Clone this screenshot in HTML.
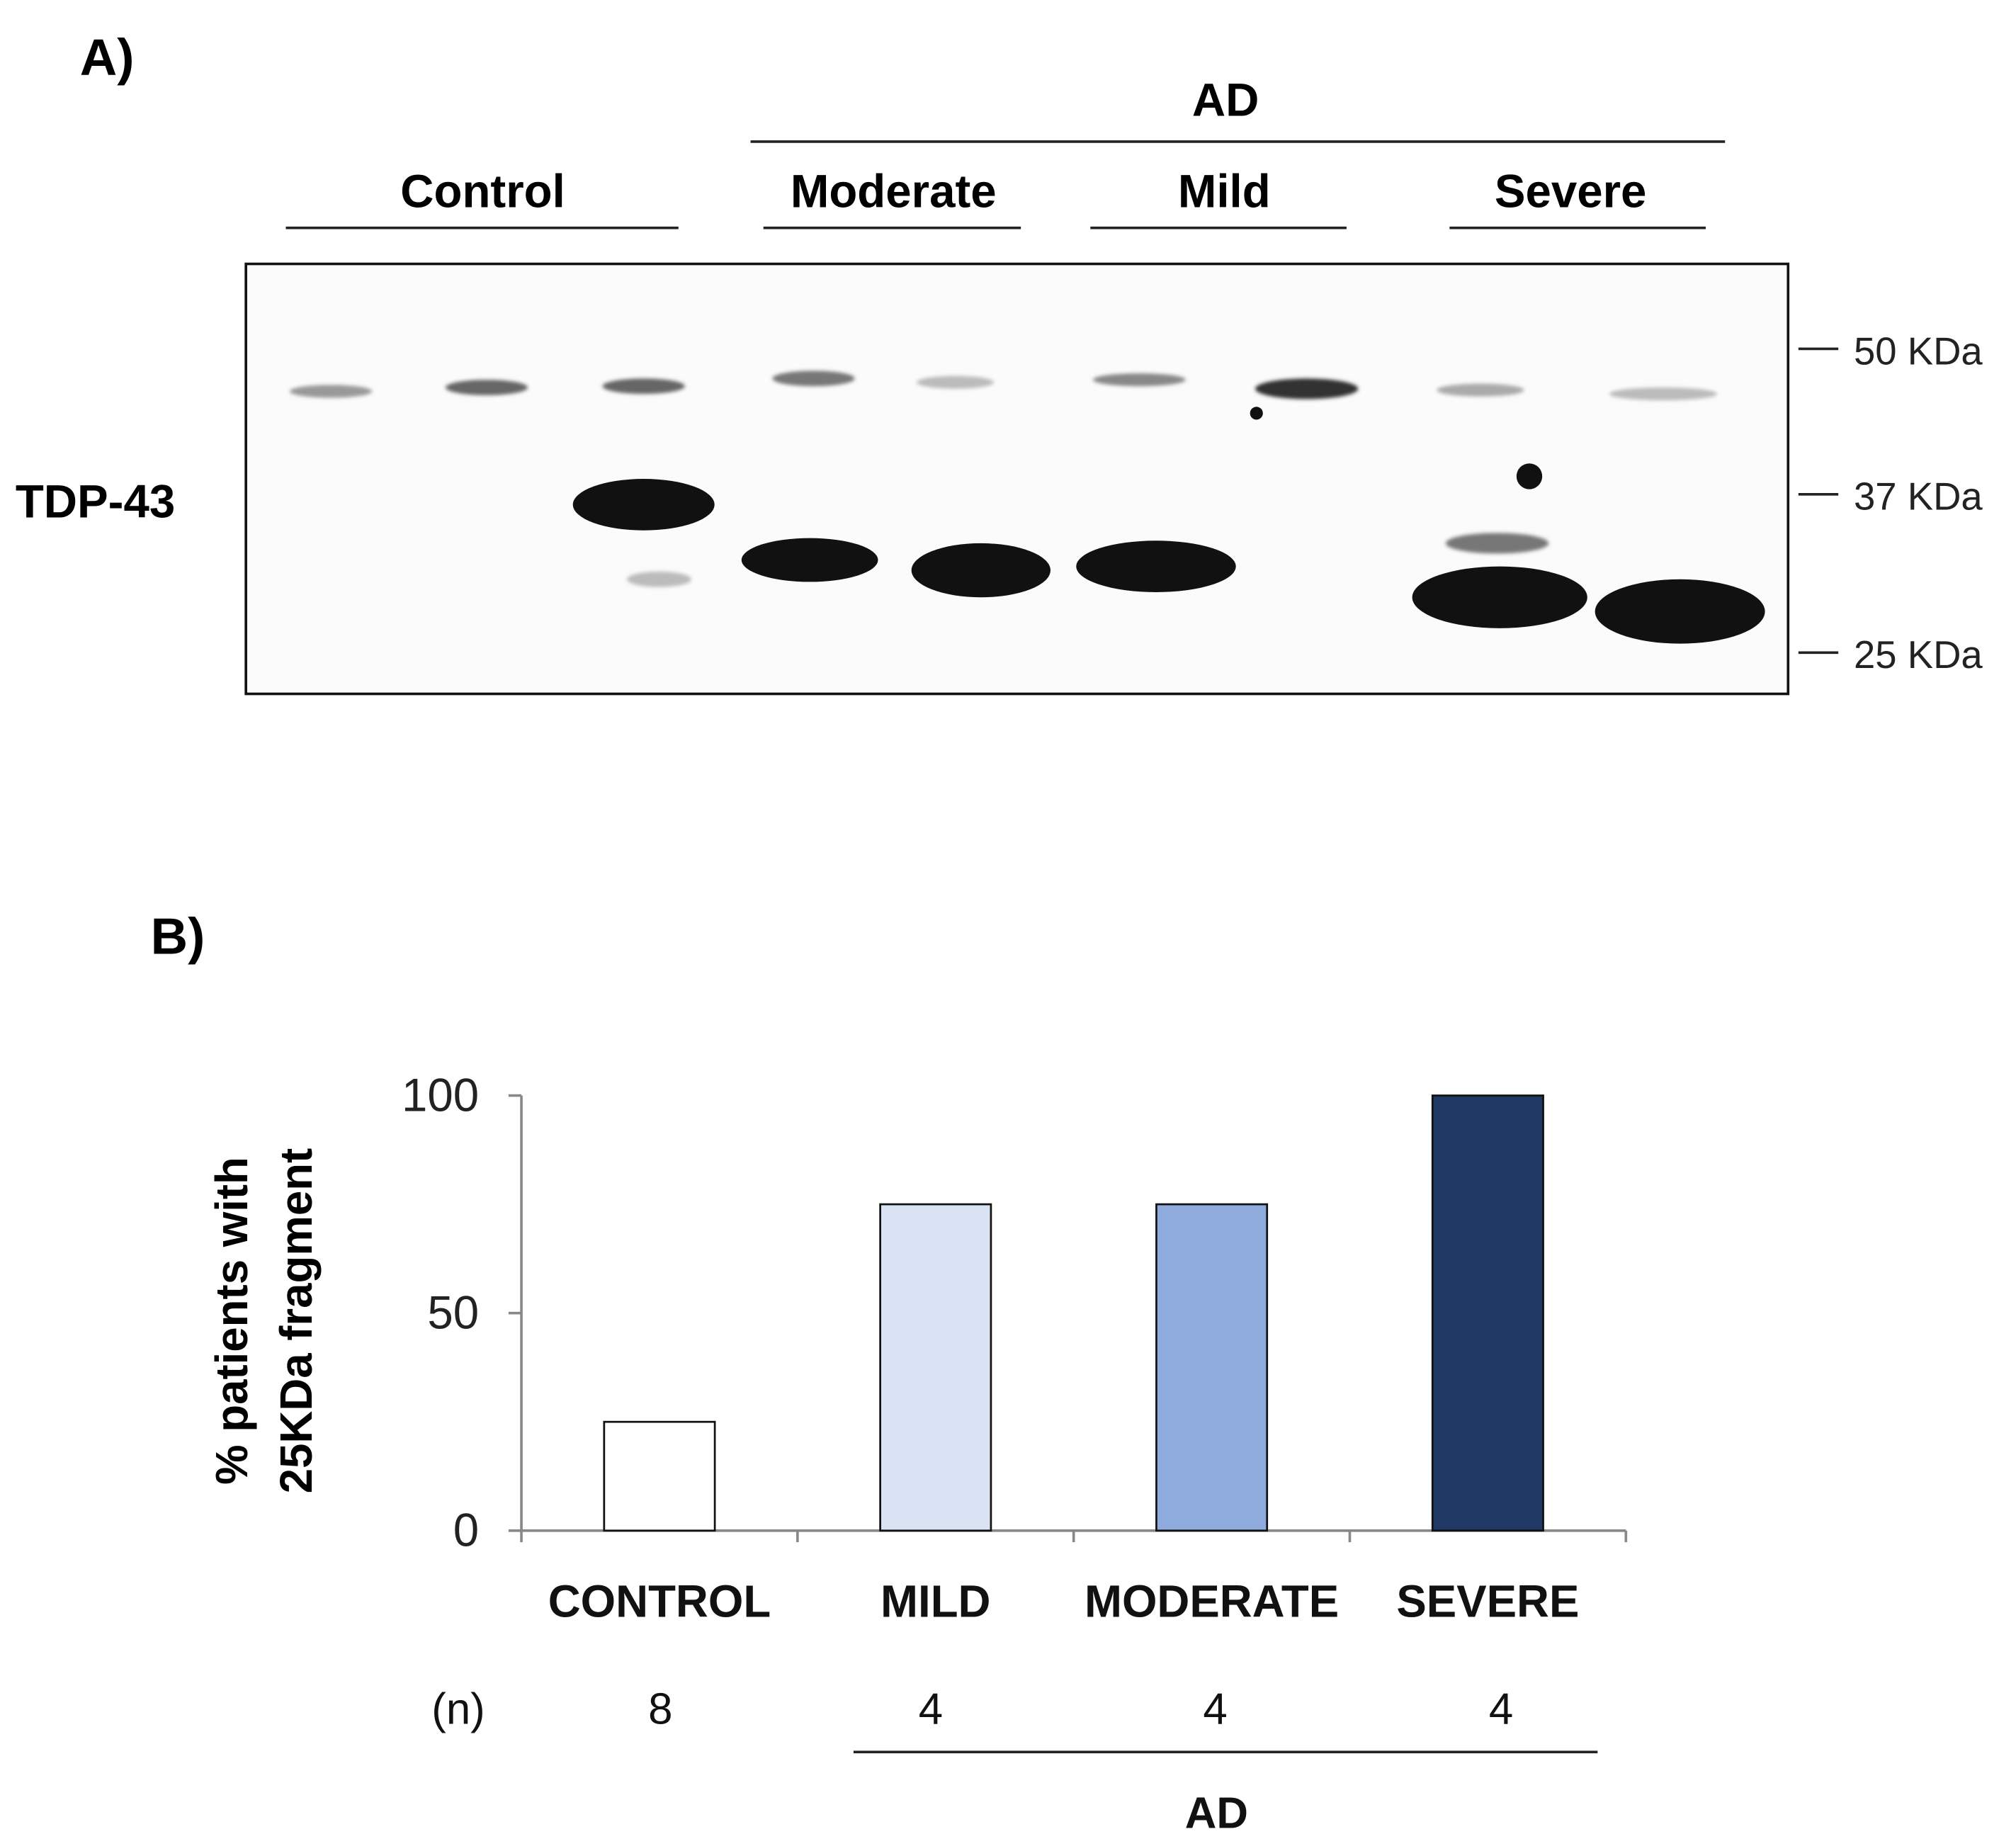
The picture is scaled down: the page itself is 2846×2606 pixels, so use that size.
<!DOCTYPE html>
<html><head><meta charset="utf-8"><style>
html,body{margin:0;padding:0;background:#fff;}
svg{display:block;}
text{font-family:"Liberation Sans",sans-serif;}
</style></head><body>
<svg id="fig" width="2846" height="2606" viewBox="0 0 1566 1434">
<defs>
<filter id="blur2" x="-20%" y="-50%" width="140%" height="200%"><feGaussianBlur stdDeviation="1.5"/></filter>
</defs>
<g>
<text x="62" y="58" font-size="40" font-weight="bold">A)</text>
<text x="952" y="90" font-size="36" font-weight="bold" text-anchor="middle">AD</text>
<line x1="583" y1="110" x2="1340" y2="110" stroke="#222" stroke-width="2"/>
<text x="375" y="161" font-size="36" font-weight="bold" text-anchor="middle">Control</text>
<text x="694" y="161" font-size="36" font-weight="bold" text-anchor="middle">Moderate</text>
<text x="951" y="161" font-size="36" font-weight="bold" text-anchor="middle">Mild</text>
<text x="1220" y="161" font-size="36" font-weight="bold" text-anchor="middle">Severe</text>
<g stroke="#222" stroke-width="2">
<line x1="222" y1="177" x2="527" y2="177"/><line x1="593" y1="177" x2="793" y2="177"/>
<line x1="847" y1="177" x2="1046" y2="177"/><line x1="1126" y1="177" x2="1325" y2="177"/>
</g>
<text x="12" y="402" font-size="36" font-weight="bold">TDP-43</text>
<rect x="191" y="205" width="1198" height="334" fill="#fbfbfb" stroke="#111" stroke-width="2"/>
<g fill="#555" filter="url(#blur2)">
<ellipse cx="257" cy="304" rx="32" ry="5" fill="#999"/>
<ellipse cx="378" cy="301" rx="32" ry="6" fill="#666"/>
<ellipse cx="500" cy="300" rx="32" ry="6" fill="#666"/>
<ellipse cx="632" cy="294" rx="32" ry="6" fill="#777"/>
<ellipse cx="742" cy="297" rx="30" ry="5" fill="#bbb"/>
<ellipse cx="885" cy="295" rx="36" ry="5" fill="#888"/>
<ellipse cx="1015" cy="302" rx="40" ry="8" fill="#333"/>
<ellipse cx="1150" cy="303" rx="34" ry="5" fill="#aaa"/>
<ellipse cx="1292" cy="306" rx="42" ry="5" fill="#bbb"/>
</g>
<g fill="#111">
<ellipse cx="500" cy="392" rx="55" ry="20"/>
<ellipse cx="512" cy="450" rx="25" ry="6" fill="#bbb" filter="url(#blur2)"/>
<ellipse cx="629" cy="435" rx="53" ry="17"/>
<ellipse cx="762" cy="443" rx="54" ry="21"/>
<ellipse cx="898" cy="440" rx="62" ry="20"/>
<ellipse cx="1163" cy="422" rx="40" ry="8" fill="#777" filter="url(#blur2)"/>
<ellipse cx="1165" cy="464" rx="68" ry="24"/>
<ellipse cx="1305" cy="475" rx="66" ry="25"/>
<circle cx="1188" cy="370" r="10"/>
<circle cx="976" cy="321" r="5"/>
</g>
<g stroke="#222" stroke-width="2">
<line x1="1397" y1="271" x2="1428" y2="271"/><line x1="1397" y1="384" x2="1428" y2="384"/><line x1="1397" y1="507" x2="1428" y2="507"/>
</g>
<g font-size="30" fill="#222">
<text x="1440" y="283">50 KDa</text>
<text x="1440" y="396">37 KDa</text>
<text x="1440" y="519">25 KDa</text>
</g>
</g>
<g id="chart">
<text x="117" y="741" font-size="40" font-weight="bold">B)</text>
<text transform="translate(192,1026) rotate(-90)" font-size="35" font-weight="bold" text-anchor="middle"><tspan x="0" dy="0">% patients with</tspan><tspan x="0" dy="50">25KDa fragment</tspan></text>
</g>
</svg>
<script>
const categories=["CONTROL","MILD","MODERATE","SEVERE"];
const values=[25,75,75,100];
const nValues=["8","4","4","4"];
const yTicks=[0,50,100];
const colors=["#ffffff","#dae3f3","#8faadc","#203864"];
const NS="http://www.w3.org/2000/svg";
const g=document.getElementById('chart');
const x0=405,x1=1263,yBase=1189,yTop=851;
const bandW=(x1-x0)/categories.length;
const yS=v=>yBase-(v/100)*(yBase-yTop);
const xC=i=>x0+bandW*(i+0.5);
function mk(tag,attrs){const e=document.createElementNS(NS,tag);for(const k in attrs)e.setAttribute(k,attrs[k]);g.appendChild(e);return e;}
let a=mk('line',{x1:x0,y1:yTop,x2:x0,y2:yBase,stroke:'#888','stroke-width':2});


a=mk('line',{x1:x0,y1:yBase,x2:x1,y2:yBase,stroke:'#888','stroke-width':2});


yTicks.forEach(t=>{
 const l=mk('line',{x1:x0-10,y1:yS(t),x2:x0,y2:yS(t),stroke:'#888','stroke-width':2});
 
 
 const tx=mk('text',{x:372,y:yS(t)+12,'font-size':36,'text-anchor':'end',fill:'#222'});
 tx.textContent=t;
 
 
});
for(let i=0;i<=categories.length;i++){
 const l=mk('line',{x1:x0+bandW*i,y1:yBase,x2:x0+bandW*i,y2:yBase+9,stroke:'#888','stroke-width':2});
 
 
}
categories.forEach((c,i)=>{
 const bw=86;
 const r=mk('rect',{x:xC(i)-bw/2,y:yS(values[i]),width:bw,height:yBase-yS(values[i]),fill:colors[i],stroke:'#111','stroke-width':1.5});
 
 
 const t=mk('text',{x:xC(i),y:1256,'font-size':35,'font-weight':'bold','text-anchor':'middle',fill:'#111'});
 t.textContent=c;
 
 
 const n=mk('text',{x:[513,723,944,1166][i],y:1339,'font-size':34,'text-anchor':'middle',fill:'#111'});
 n.textContent=nValues[i];
 
 
});
let t=mk('text',{x:356,y:1339,'font-size':34,'text-anchor':'middle',fill:'#111'});
t.textContent='(n)';


a=mk('line',{x1:663,y1:1361,x2:1241,y2:1361,stroke:'#222','stroke-width':2});


t=mk('text',{x:945,y:1420,'font-size':34,'font-weight':'bold','text-anchor':'middle',fill:'#111'});
t.textContent='AD';


</script>
</body></html>
